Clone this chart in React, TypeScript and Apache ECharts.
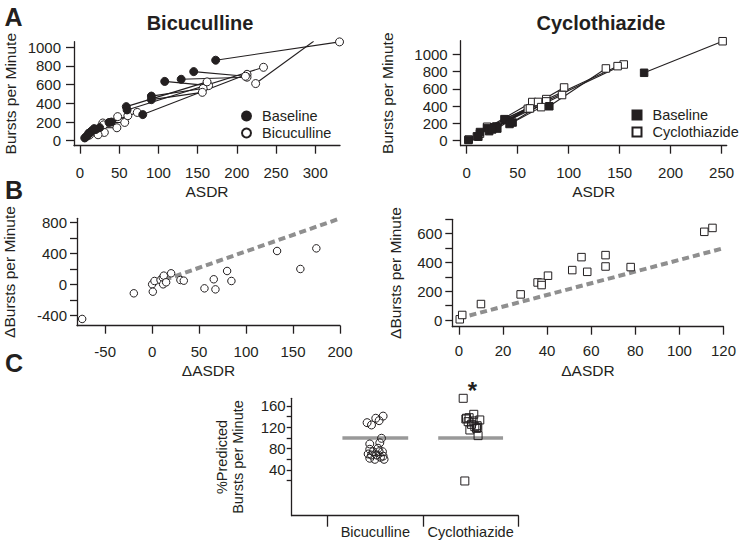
import React, { useEffect, useRef } from 'react';
import * as echarts from 'echarts';

const FONT = '"Liberation Sans", Arial, Helvetica, sans-serif';
const INK = '#231f20';
const GRAY = '#8f8f8f';

// ---------- Panel A: Bicuculline (baseline -> drug pairs) ----------
const bicBaseASDR = [298, 173, 60, 80, 129, 108, 145, 91, 91, 59, 40, 37, 25, 20, 15, 11, 8, 6, 13, 10, 18];
const bicBaseBPM = [1065, 862, 330, 280, 658, 635, 740, 478, 440, 365, 200, 196, 140, 120, 107, 80, 45, 30, 90, 60, 130];
const bicDrugASDR = [224, 331, 234, 213, 213, 164, 211, 157, 156, 162, 73, 57, 47, 48, 31, 23, 29, 17, 61, 12, 30];
const bicDrugBPM = [612, 1058, 786, 711, 680, 590, 690, 560, 518, 630, 303, 196, 139, 258, 89, 64, 190, 114, 268, 60, 170];

// ---------- Panel A: Cyclothiazide (baseline -> drug pairs) ----------
const ctzBaseASDR = [1.6, 11.4, 39, 37, 81, 29, 27, 20, 13, 30, 22, 25, 42, 45, 10, 174];
const ctzBaseBPM = [8, 46, 241, 249, 398, 164, 156, 146, 100, 140, 110, 130, 193, 210, 50, 785];
const ctzDrugASDR = [2, 13, 154, 148, 136.5, 95.5, 93.5, 78, 64.3, 70, 60, 62, 78, 73, 20, 251];
const ctzDrugBPM = [13, 81, 881, 862, 835, 615, 528, 481, 447, 448, 369, 373, 454, 388, 161, 1150];

// ---------- Panel B: changes ----------
const bicDeltaASDR = [-74.5, -19.5, 0, 0.7, 2.5, 8.9, 11.3, 12.4, 11.7, 14.9, 20.2, 30.1, 33.7, 55.7, 65.6, 67.4, 79.8, 84.4, 133, 157.8, 174.8];
const bicDeltaBPM = [-447, -116, 0, -95, 43, 56, 86, 112, 0, 26, 142, 56, 47, -52, 65, -65, 172, 43, 430, 198, 464];
const ctzDeltaASDR = [0.4, 1.5, 10, 28, 35.7, 37.5, 37.5, 40.4, 51.4, 55.6, 58.2, 66.5, 66.5, 77.9, 111.3, 115];
const ctzDeltaBPM = [5, 35, 111, 178, 261, 259, 243, 308, 347, 437, 335, 451, 372, 368, 613, 640];
const bicFitLine = [[2, 10], [200, 850]];
const ctzFitLine = [[0, 12], [119, 495]];

// ---------- Panel C: % predicted ----------
const groupNames = ['Bicuculline', 'Cyclothiazide'];
const bicPctPredicted = [128.7, 124.4, 137, 132.5, 141, 99.4, 91, 88.8, 78.8, 74.3, 74.3, 74.3, 70, 68, 66, 62, 60, 63.8, 60, 68, 80.7];
const bicJitter = [-0.086, -0.04, 0.005, 0.04, 0.082, 0.065, 0.047, -0.058, -0.058, -0.023, 0.04, 0.075, -0.075, 0.013, 0.082, -0.058, -0.005, 0.054, 0.092, -0.04, 0.029];
const ctzPctPredicted = [174.4, 137, 138, 144.4, 133.8, 130.6, 125.6, 121.2, 123, 115, 118, 104.4, 19.4, 132, 135.6, 120];
const ctzJitter = [-0.078, -0.043, -0.016, 0.033, 0.096, -0.026, 0.009, 0.044, 0.068, -0.008, 0.062, 0.078, -0.061, 0.026, -0.05, 0.075];
const groupMeans = [100, 100];
const starValue = 189;

const zip = (a: number[], b: number[]) => a.map((v, i) => [v, b[i]]);
const pairs = (ax: number[], ay: number[], bx: number[], by: number[]) =>
  ax.map((v, i) => ({ coords: [[v, ay[i]], [bx[i], by[i]]] }));
const range = (a: number, b: number, s: number) => {
  const r: number[] = [];
  for (let v = a; v <= b + 1e-9; v += s) r.push(v);
  return r;
};

function valAxis(o: any) {
  return {
    type: 'value',
    gridIndex: o.grid,
    min: o.min,
    max: o.max,
    name: o.name,
    nameLocation: 'middle',
    nameGap: o.nameGap,
    nameTextStyle: { color: INK, fontSize: o.nameSize || 15.5, fontFamily: FONT, lineHeight: o.nameLH },
    axisLine: { show: true, onZero: false, lineStyle: { color: INK, width: 1.3 } },
    axisTick: { show: true, length: o.tickLen || 8, customValues: o.ticks, lineStyle: { color: INK, width: 1.3 } },
    axisLabel: {
      show: true,
      customValues: o.labels || o.ticks,
      margin: o.margin,
      color: INK,
      fontSize: o.labelSize || 15,
      fontFamily: FONT,
      formatter: o.formatter || ((v: number) => String(v)),
    },
    splitLine: { show: false },
  };
}

export default function App() {
  const ref = useRef<HTMLDivElement>(null);
  useEffect(() => {
    if (!ref.current) return;
    const chart = echarts.init(ref.current, undefined, { renderer: 'svg' });
    const open = { color: '#fff', borderColor: INK, borderWidth: 1, opacity: 1 };
    const filled = { color: INK, borderColor: INK, borderWidth: 1, opacity: 1 };
    const hollow = { color: 'rgba(255,255,255,0)', borderColor: INK, borderWidth: 1, opacity: 1 };
    const legendText = { color: INK, fontSize: 14.5, fontFamily: FONT, lineHeight: 16 };
    const option: any = {
      animation: false,
      backgroundColor: '#fff',
      textStyle: { fontFamily: FONT },
      grid: [
        { left: 74, top: 41.7, width: 266, height: 104 },
        { left: 460.7, top: 40.7, width: 266, height: 105 },
        { left: 76.7, top: 218.3, width: 263.3, height: 107.4 },
        { left: 452.3, top: 219.3, width: 274.4, height: 107.4 },
        { left: 291.7, top: 398.3, width: 226.6, height: 117.4 },
      ],
      xAxis: [
        valAxis({ grid: 0, min: -7.7, max: 331.6, ticks: range(0, 300, 50), margin: 19, name: 'ASDR', nameGap: 38 }),
        valAxis({ grid: 1, min: -5.9, max: 255, ticks: range(0, 250, 50), margin: 19, name: 'ASDR', nameGap: 38 }),
        valAxis({ grid: 2, min: -80, max: 200, ticks: range(-50, 200, 50), margin: 18, name: '\u0394ASDR', nameGap: 37 }),
        valAxis({ grid: 3, min: -3, max: 120, ticks: range(0, 120, 20), margin: 16, name: '\u0394ASDR', nameGap: 36 }),
        valAxis({
          grid: 4, min: -0.377, max: 2, ticks: [0, 1, 2], labels: [0.5, 1.5], tickLen: 11, margin: 9, labelSize: 14.5,
          formatter: (v: number) => groupNames[Math.floor(v)] || '',
        }),
      ],
      yAxis: [
        valAxis({ grid: 0, min: -53, max: 1060, ticks: range(0, 1000, 200), margin: 13, name: 'Bursts per Minute', nameGap: 56 }),
        valAxis({ grid: 1, min: -58, max: 1156, ticks: range(0, 1000, 200), margin: 13, name: 'Bursts per Minute', nameGap: 65 }),
        valAxis({ grid: 2, min: -534, max: 852, ticks: range(-400, 800, 200), labels: range(-400, 800, 400), tickLen: 7, margin: 10, name: '\u0394Bursts per Minute', nameGap: 60 }),
        valAxis({ grid: 3, min: -46.5, max: 700, ticks: range(0, 700, 100), labels: range(0, 600, 200), tickLen: 7, margin: 10, name: '\u0394Bursts per Minute', nameGap: 49 }),
        valAxis({ grid: 4, min: -45.7, max: 174.4, ticks: range(20, 160, 20), labels: range(40, 160, 40), tickLen: 5, margin: 6, labelSize: 15,
          name: '%Predicted\nBursts per Minute', nameGap: 46, nameSize: 14.5, nameLH: 16 }),
      ],
      legend: [
        {
          orient: 'vertical', left: 241, top: 108, padding: 0, itemWidth: 9, itemHeight: 9, itemGap: 1, selectedMode: false,
          textStyle: { ...legendText, padding: [0, 0, 0, 6] },
          data: [{ name: 'Baseline', icon: 'circle' }, { name: 'Bicuculline', icon: 'circle' }],
        },
        {
          orient: 'vertical', left: 631.5, top: 107, padding: 0, itemWidth: 9, itemHeight: 9, itemGap: 1, selectedMode: false,
          textStyle: { ...legendText, padding: [0, 0, 0, 6] },
          data: [{ name: 'Baseline ', icon: 'rect' }, { name: 'Cyclothiazide', icon: 'rect' }],
        },
      ],
      graphic: [
        { type: 'text', x: 13.5, y: 17, style: { text: 'A', fontSize: 25, fontWeight: 'bold', fontFamily: FONT, fill: INK, align: 'center', verticalAlign: 'middle' } },
        { type: 'text', x: 14, y: 190, style: { text: 'B', fontSize: 25, fontWeight: 'bold', fontFamily: FONT, fill: INK, align: 'center', verticalAlign: 'middle' } },
        { type: 'text', x: 14, y: 363, style: { text: 'C', fontSize: 25, fontWeight: 'bold', fontFamily: FONT, fill: INK, align: 'center', verticalAlign: 'middle' } },
        { type: 'text', x: 200, y: 23, style: { text: 'Bicuculline', fontSize: 20, fontWeight: 'bold', fontFamily: FONT, fill: INK, align: 'center', verticalAlign: 'middle' } },
        { type: 'text', x: 601, y: 23, style: { text: 'Cyclothiazide', fontSize: 20, fontWeight: 'bold', fontFamily: FONT, fill: INK, align: 'center', verticalAlign: 'middle' } },
      ],
      series: [
        // A left
        { type: 'lines', coordinateSystem: 'cartesian2d', xAxisIndex: 0, yAxisIndex: 0, z: 1, silent: true,
          lineStyle: { color: INK, width: 1.1, opacity: 1 }, data: pairs(bicBaseASDR, bicBaseBPM, bicDrugASDR, bicDrugBPM) },
        { type: 'scatter', name: 'Bicuculline', xAxisIndex: 0, yAxisIndex: 0, z: 2, symbol: 'circle', symbolSize: 8,
          itemStyle: open, data: zip(bicDrugASDR, bicDrugBPM) },
        { type: 'scatter', name: 'Baseline', xAxisIndex: 0, yAxisIndex: 0, z: 3, symbol: 'circle', symbolSize: 8,
          itemStyle: filled, data: zip(bicBaseASDR, bicBaseBPM) },
        // A right
        { type: 'lines', coordinateSystem: 'cartesian2d', xAxisIndex: 1, yAxisIndex: 1, z: 1, silent: true,
          lineStyle: { color: INK, width: 1.1, opacity: 1 }, data: pairs(ctzBaseASDR, ctzBaseBPM, ctzDrugASDR, ctzDrugBPM) },
        { type: 'scatter', name: 'Cyclothiazide', xAxisIndex: 1, yAxisIndex: 1, z: 2, symbol: 'rect', symbolSize: 7.5,
          itemStyle: open, data: zip(ctzDrugASDR, ctzDrugBPM) },
        { type: 'scatter', name: 'Baseline ', xAxisIndex: 1, yAxisIndex: 1, z: 3, symbol: 'rect', symbolSize: 7.5,
          itemStyle: filled, data: zip(ctzBaseASDR, ctzBaseBPM) },
        // B left
        { type: 'line', xAxisIndex: 2, yAxisIndex: 2, z: 1, showSymbol: false, silent: true,
          lineStyle: { color: GRAY, width: 4, type: [7, 4], cap: 'butt' }, data: bicFitLine },
        { type: 'scatter', xAxisIndex: 2, yAxisIndex: 2, z: 2, symbol: 'circle', symbolSize: 7.5,
          itemStyle: open, data: zip(bicDeltaASDR, bicDeltaBPM) },
        // B right
        { type: 'line', xAxisIndex: 3, yAxisIndex: 3, z: 1, showSymbol: false, silent: true,
          lineStyle: { color: GRAY, width: 4, type: [7, 4], cap: 'butt' }, data: ctzFitLine },
        { type: 'scatter', xAxisIndex: 3, yAxisIndex: 3, z: 2, symbol: 'rect', symbolSize: 7.5,
          itemStyle: open, data: zip(ctzDeltaASDR, ctzDeltaBPM) },
        // C
        { type: 'line', xAxisIndex: 4, yAxisIndex: 4, z: 1, showSymbol: false, silent: true,
          lineStyle: { color: '#999', width: 3.5 }, data: [[0.155, groupMeans[0]], [0.845, groupMeans[0]]] },
        { type: 'line', xAxisIndex: 4, yAxisIndex: 4, z: 1, showSymbol: false, silent: true,
          lineStyle: { color: '#999', width: 3.5 }, data: [[1.16, groupMeans[1]], [1.84, groupMeans[1]]] },
        { type: 'scatter', xAxisIndex: 4, yAxisIndex: 4, z: 2, symbol: 'circle', symbolSize: 8,
          itemStyle: hollow, data: bicPctPredicted.map((v, i) => [0.5 + bicJitter[i], v]) },
        { type: 'scatter', xAxisIndex: 4, yAxisIndex: 4, z: 2, symbol: 'rect', symbolSize: 8,
          itemStyle: hollow, data: ctzPctPredicted.map((v, i) => [1.5 + ctzJitter[i], v]) },
        { type: 'scatter', xAxisIndex: 4, yAxisIndex: 4, z: 3, clip: false, symbolSize: 0, silent: true,
          itemStyle: { opacity: 1 },
          label: { show: true, position: 'inside', formatter: '*', fontSize: 24, fontWeight: 'bold', color: INK, fontFamily: FONT },
          data: [[1.52, starValue]] },
      ],
    };
    chart.setOption(option);
    return () => chart.dispose();
  }, []);
  return <div ref={ref} style={{ position: 'fixed', left: 0, top: 0, width: 739, height: 541, background: '#fff' }} />;
}
